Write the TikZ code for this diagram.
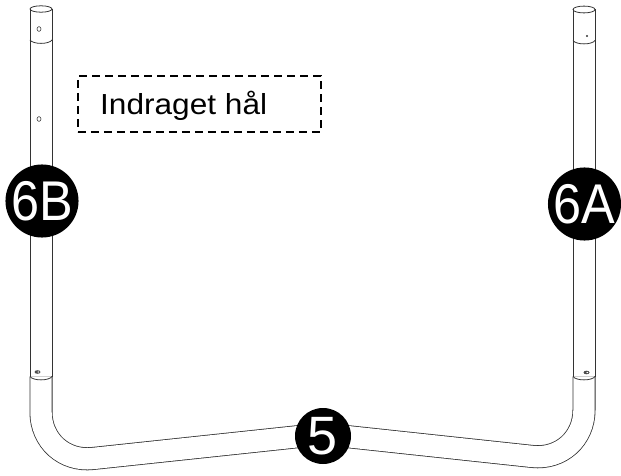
\documentclass[tikz,border=0pt]{standalone}
\usepackage{fontspec}
\setmainfont{Liberation Sans}
\begin{document}
\begin{tikzpicture}[x=1pt,y=-1pt,
  tube/.style={draw=black!80, line width=0.8pt},
  bent/.style={draw=black!80, line width=0.8pt, double=white, double distance=21.4pt, rounded corners=52pt},
  badge/.style={circle, fill=black, text=white, inner sep=0pt},
  hole/.style={draw=black!80, line width=0.6pt},
]
\useasboundingbox (0,0) rectangle (621,476);

% bent base tube (5), two halves meeting under the centre badge
\draw[bent] (41,376.5) -- (41,464) -- (323,434);
\draw[bent] (584,376.5) -- (584,462) -- (323,434);

% left upright (6B)
\draw[tube] (30,9) -- (30,376.5) (52,9) -- (52,376.5);
\draw[tube] (41,9) ellipse [x radius=11, y radius=3.2];
\draw[tube] (30,40) .. controls (33,44.5) and (49,44.5) .. (52,40);
\draw[tube] (30,376.5) .. controls (33,381) and (49,381) .. (52,376.5);
\draw[hole] (39,29) ellipse [x radius=2, y radius=2.4];
\draw[hole] (39,119) ellipse [x radius=2, y radius=2.4];
\fill[black!70] (37.5,372) ellipse [x radius=3, y radius=1.8];
\fill[white] (38.3,372) ellipse [x radius=1, y radius=0.7];

% right upright (6A)
\draw[tube] (573,9) -- (573,376.5) (595,9) -- (595,376.5);
\draw[tube] (584,9.5) ellipse [x radius=11, y radius=3.4];
\draw[tube] (573,40.5) .. controls (576,45) and (592,45) .. (595,40.5);
\draw[tube] (573,376.5) .. controls (576,381) and (592,381) .. (595,376.5);
\fill[black!80] (587,36) circle [radius=1.1];
\fill[black!70] (586.5,372.5) ellipse [x radius=3, y radius=1.8];
\fill[white] (587.3,372.5) ellipse [x radius=1, y radius=0.7];

% part badges
\node[badge, minimum size=66pt, font=\fontsize{56}{56}\selectfont] (p6b) at (42,201) {\scalebox{0.9}[1]{6B}};
\node[badge, minimum size=64pt, font=\fontsize{56}{56}\selectfont] (p6a) at (584.5,204) {\scalebox{0.9}[1]{6A}};
\node[badge, minimum size=56pt, font=\fontsize{54}{54}\selectfont] (p5) at (323,436) {5};

% note
\node[draw, dash pattern=on 8pt off 5pt, line width=1.7pt, minimum width=243pt, minimum height=56pt, anchor=north west, inner sep=0pt] (notebox) at (77,75) {};
\node[anchor=base west, inner sep=0pt, font=\fontsize{29}{29}\selectfont] (notetext) at (100,115) {\scalebox{1.09}[1]{Indraget hål}};
\end{tikzpicture}
\end{document}
